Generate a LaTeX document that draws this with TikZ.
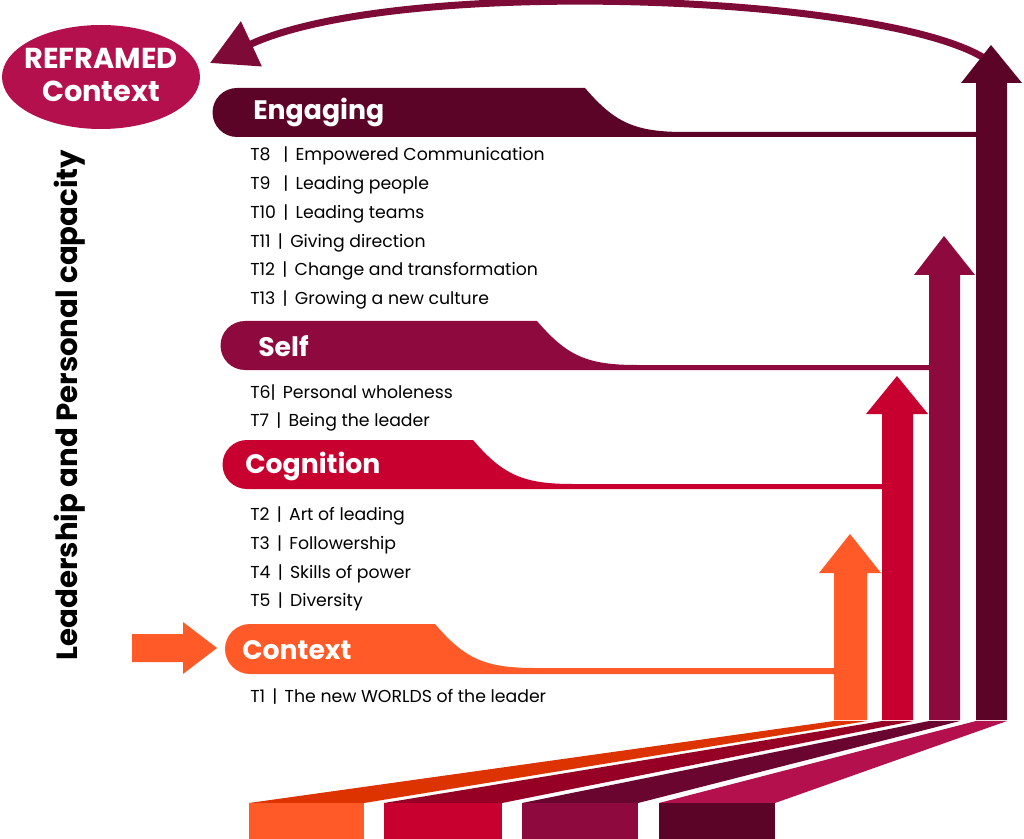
\documentclass[tikz,border=0pt]{standalone}
\usepackage{fontspec}
\setmainfont{Poppins}
\usetikzlibrary{arrows.meta}
\definecolor{ctxorange}{HTML}{FF5A28}
\definecolor{cogred}{HTML}{C8002F}
\definecolor{selfwine}{HTML}{8E0A3E}
\definecolor{engdark}{HTML}{5C0427}
\definecolor{refpink}{HTML}{B5104E}
\definecolor{loopwine}{HTML}{7D0A37}
\definecolor{ctxshade}{HTML}{DD3300}
\definecolor{cogshade}{HTML}{960024}
\definecolor{selfshade}{HTML}{6A0530}
\newcommand{\topicbar}{\hspace{0.42em}|\hspace{0.42em}}
\begin{document}
\begin{tikzpicture}[x=0.025cm,y=-0.025cm,
  tablabel/.style={text=white, font=\bfseries\fontsize{19}{22}\selectfont, anchor=west, inner sep=0pt},
  item/.style={font=\fontsize{12.3}{14}\selectfont, anchor=west, inner sep=0pt}]
\useasboundingbox (0,0) rectangle (1024,839);
% reframed context and the loop back to it
\fill[refpink] (101,77) ellipse (99 and 52);
\node[text=white, align=center, font=\bfseries\fontsize{20.5}{24}\selectfont] (reframed) at (101,75) {REFRAMED\\Context};
\coordinate (engtop) at (990,62);
\coordinate (reftip) at (210,63);
\draw[loopwine, line width=0.175cm, -{Triangle[length=1.14cm, width=1.2cm]}]
  (engtop) .. controls (900,-5) and (400,-25) .. (reftip);
% side text
\node[rotate=90, font=\bfseries\fontsize{20.8}{24}\selectfont] (capacity) at (70,405) {Leadership and Personal capacity};
% tabs
\fill[engdark] (237,88) -- (585,88) .. controls (615,123) and (635,132) .. (685,132) -- (976,132) -- (976,137) -- (237,137) arc (90:270:24.5) -- cycle;
\fill[selfwine] (245,321) -- (537,321) .. controls (567,356) and (587,365) .. (637,365) -- (929,365) -- (929,370) -- (245,370) arc (90:270:24.5) -- cycle;
\fill[cogred] (247,440) -- (473,440) .. controls (503,475) and (523,484) .. (573,484) -- (882,484) -- (882,489) -- (247,489) arc (90:270:24.5) -- cycle;
\fill[ctxorange] (250,624) -- (435,624) .. controls (465,659) and (485,668) .. (535,668) -- (834,668) -- (834,674) -- (250,674) arc (90:270:25) -- cycle;
\node[tablabel] (engaging) at (253,112) {Engaging};
\node[tablabel] (self) at (258,346) {Self};
\node[tablabel] (cognition) at (245,466) {Cognition};
\node[tablabel] (context) at (242,650) {Context};
% topics
\node[item] (t8) at (250,156) {\makebox[0pt][l]{T8}\phantom{T10}\topicbar Empowered Communication};
\node[item] (t9) at (250,185) {\makebox[0pt][l]{T9}\phantom{T10}\topicbar Leading people};
\node[item] (t10) at (250,214) {T10\topicbar Leading teams};
\node[item] (t11) at (250,243) {T11\topicbar Giving direction};
\node[item] (t12) at (250,271) {T12\topicbar Change and transformation};
\node[item] (t13) at (250,300) {T13\topicbar Growing a new culture};
\node[item] (t6) at (250,393) {T6|\hspace{0.42em}Personal wholeness};
\node[item] (t7) at (250,422) {T7\topicbar Being the leader};
\node[item] (t2) at (250,516) {T2\topicbar Art of leading};
\node[item] (t3) at (250,545) {T3\topicbar Followership};
\node[item] (t4) at (250,574) {T4\topicbar Skills of power};
\node[item] (t5) at (250,602) {T5\topicbar Diversity};
\node[item] (t1) at (250,697) {T1\topicbar The new WORLDS of the leader};
% entry arrow
\fill[ctxorange] (132,634) -- (183,634) -- (183,622) -- (217,648) -- (183,674) -- (183,662) -- (132,662) -- cycle;
% rising arrows
\fill[ctxorange] (834,720) -- (834,573) -- (819,573) -- (850,534) -- (881,573) -- (867,573) -- (867,720) -- cycle;
\fill[cogred] (882,720) -- (882,414) -- (866,414) -- (897,376) -- (928,414) -- (913,414) -- (913,720) -- cycle;
\fill[selfwine] (929,720) -- (929,275) -- (914,275) -- (944,236) -- (975,275) -- (960,275) -- (960,720) -- cycle;
\fill[engdark] (976,720) -- (976,83) -- (961,83) -- (991,45) -- (1022,83) -- (1007,83) -- (1007,720) -- cycle;
% floor
\fill[ctxshade] (834,721) -- (867,721) -- (364,803) -- (249,803) -- cycle;
\fill[cogshade] (882,721) -- (913,721) -- (502,803) -- (384,803) -- cycle;
\fill[selfshade] (929,721) -- (960,721) -- (638,803) -- (522,803) -- cycle;
\fill[refpink] (976,721) -- (1007,721) -- (775,803) -- (659,803) -- cycle;
\fill[ctxorange] (249,803) rectangle (364,839);
\fill[cogred] (384,803) rectangle (502,839);
\fill[selfwine] (522,803) rectangle (638,839);
\fill[engdark] (659,803) rectangle (775,839);
\end{tikzpicture}
\end{document}
